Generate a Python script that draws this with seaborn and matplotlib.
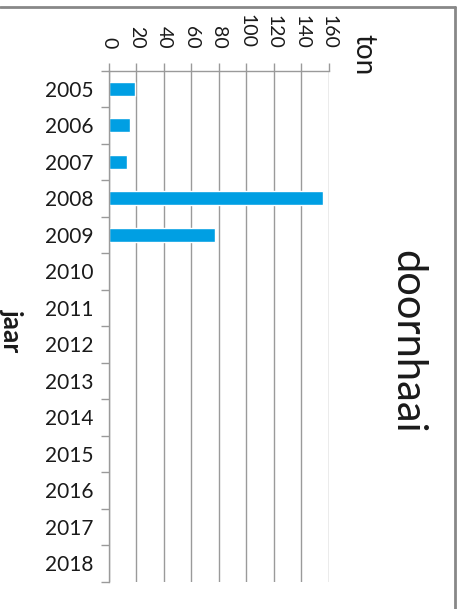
import numpy as np
import matplotlib.pyplot as plt
import seaborn as sns
import pandas as pd
from matplotlib.lines import Line2D
from matplotlib.ticker import FixedLocator

sns.set_style('white')
plt.rcParams['font.family'] = ['Lato', 'DejaVu Sans']

years = ['2005', '2006', '2007', '2008', '2009', '2010', '2011',
         '2012', '2013', '2014', '2015', '2016', '2017', '2018']
ton = [19, 15.5, 13, 155.5, 77, np.nan, np.nan, np.nan,
       np.nan, np.nan, np.nan, np.nan, np.nan, np.nan]
xticks = [0, 20, 40, 60, 80, 100, 120, 140, 160]

df = pd.DataFrame({'jaar': years, 'ton': ton})

fig = plt.figure(figsize=(4.64, 6.09), dpi=100)
ax = fig.add_axes([109 / 464, 1 - 581.5 / 609, 220 / 464, 510.8 / 609])

sns.barplot(data=df, x='ton', y='jaar', order=years, orient='h',
            color='#009fe3', saturation=1, width=0.38, ax=ax)

grey = '#9a9a9a'
ax.set_xlim(0, 160)
ax.set_ylim(len(years) - 0.5, -0.5)
ax.set_xticks(xticks)
ax.xaxis.tick_top()
ax.grid(axis='x', color=grey, lw=1)
ax.set_axisbelow(True)
ax.tick_params(axis='x', which='major', top=True, length=6, width=1, color=grey,
               pad=10, labelsize=14, labelcolor='#1a1a1a', labelrotation=-90)
ax.tick_params(axis='y', which='major', left=False, length=0, pad=11,
               labelsize=15, labelcolor='#1a1a1a')
ax.yaxis.set_minor_locator(FixedLocator(np.arange(-0.5, len(years), 1)))
ax.tick_params(axis='y', which='minor', left=True, length=6, width=1, color=grey)

for s in ['right', 'bottom']:
    ax.spines[s].set_visible(False)
for s in ['top', 'left']:
    ax.spines[s].set_color(grey)
    ax.spines[s].set_linewidth(1)
ax.set_xlabel('')
ax.set_ylabel('')

fig.text(363 / 464, 1 - 55 / 609, 'ton', rotation=-90, fontsize=20,
         ha='center', va='center', color='#1a1a1a')
fig.text(12 / 464, 1 - 331 / 609, 'jaar', rotation=-90, fontsize=19,
         fontweight='bold', ha='center', va='center', color='#1a1a1a')
fig.text(407 / 464, 1 - 342 / 609, 'doornhaai', rotation=-90, fontsize=30,
         ha='center', va='center', color='#1a1a1a')

# frame around the graphic
fig.add_artist(Line2D([0, 455.5 / 464], [1 - 7 / 609, 1 - 7 / 609],
                      transform=fig.transFigure, color='#888888', lw=2))
fig.add_artist(Line2D([455.5 / 464, 455.5 / 464], [0, 1 - 7 / 609],
                      transform=fig.transFigure, color='#888888', lw=2))

plt.savefig('out.png', dpi=100)
